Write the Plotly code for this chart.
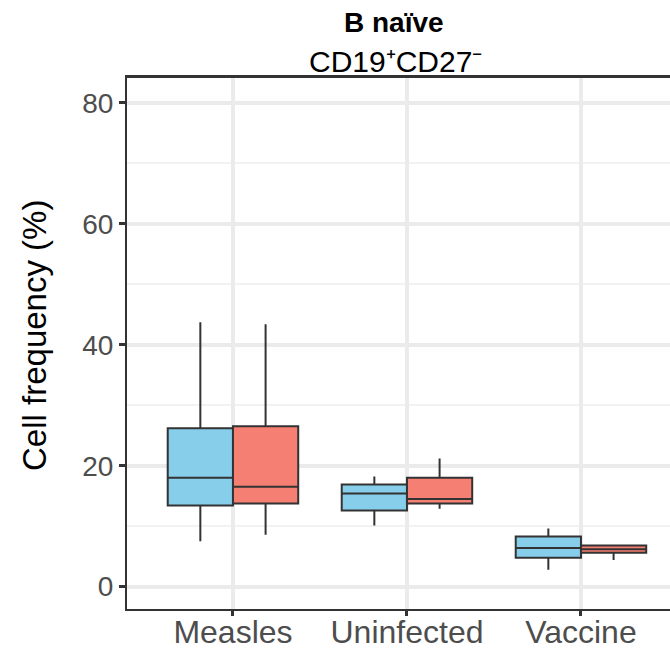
import plotly.graph_objects as go

categories = ["Measles", "Uninfected", "Vaccine"]

# Group A (blue)
a_low = [7.5, 10.1, 2.8]
a_q1 = [13.4, 12.6, 4.8]
a_med = [18.0, 15.4, 6.4]
a_q3 = [26.2, 16.9, 8.3]
a_high = [43.7, 18.2, 9.6]

# Group B (red)
b_low = [8.6, 12.9, 4.4]
b_q1 = [13.75, 13.75, 5.6]
b_med = [16.5, 14.5, 6.2]
b_q3 = [26.5, 18.0, 6.8]
b_high = [43.4, 21.2, 6.8]

y_ticks = [0, 20, 40, 60, 80]
y_minor = [10, 30, 50, 70]

FONT = "Liberation Sans, Arial, Helvetica, sans-serif"
OUT = "#333333"

W, H = 670, 649
L, R, T, B = 127, 0, 77, 40
PW, PH = W - L - R, H - T - B

fig = go.Figure()
for name, low, q1, med, q3, high, col in [
    ("A", a_low, a_q1, a_med, a_q3, a_high, "#87CEEB"),
    ("B", b_low, b_q1, b_med, b_q3, b_high, "#F47F72"),
]:
    fig.add_trace(go.Box(
        x=categories, q1=q1, median=med, q3=q3,
        lowerfence=low, upperfence=high,
        name=name, fillcolor=col,
        line=dict(color=OUT, width=2),
        whiskerwidth=0, boxpoints=False, showlegend=False,
    ))

fig.update_layout(
    width=W, height=H,
    margin=dict(l=L, r=R, t=T, b=B, autoexpand=False),
    paper_bgcolor="white", plot_bgcolor="white",
    boxmode="group", boxgap=0.25, boxgroupgap=0,
    font=dict(family=FONT, color="black"),
    showlegend=False,
)
fig.update_xaxes(
    type="category", range=[-0.609, -0.609 + PW / 174.0], automargin=False,
    showline=True, linecolor=OUT, linewidth=2, mirror=True,
    ticks="outside", ticklen=5, tickwidth=3, tickcolor=OUT,
    showgrid=True, gridcolor="#EBEBEB", gridwidth=4,
    tickfont=dict(family=FONT, size=32, color="#4D4D4D"),
    ticklabelstandoff=-11,
    zeroline=False,
)
fig.update_yaxes(
    range=[-3.69, 84.25], tickvals=y_ticks, automargin=False,
    showline=True, linecolor=OUT, linewidth=2, mirror=False,
    ticks="outside", ticklen=6, tickwidth=3, tickcolor=OUT,
    showgrid=True, gridcolor="#EBEBEB", gridwidth=4,
    minor=dict(tickvals=y_minor, showgrid=True, gridcolor="#F2F2F2", gridwidth=2, ticks=""),
    tickfont=dict(family=FONT, size=28, color="#4D4D4D"),
    zeroline=False,
)
fig.add_shape(type="line", xref="paper", yref="paper", x0=0, x1=1, y0=1, y1=1,
              line=dict(color=OUT, width=2))

def py(pix):
    return (H - B - pix) / PH

def px(pix):
    return (pix - L) / PW

fig.add_annotation(text="<b>B naïve</b>", xref="paper", yref="paper",
                   x=px(394), y=py(22.5), xanchor="center", yanchor="middle",
                   showarrow=False, font=dict(family=FONT, size=28, color="black"))
fig.add_annotation(text="CD19⁺CD27⁻", xref="paper", yref="paper",
                   x=px(395), y=py(61), xanchor="center", yanchor="middle",
                   showarrow=False, font=dict(family=FONT, size=30, color="black"))
fig.add_annotation(text="Cell frequency (%)", xref="paper", yref="paper",
                   x=px(34), y=py(336), xanchor="center", yanchor="middle",
                   textangle=-90, showarrow=False, font=dict(family=FONT, size=33, color="black"))

fig.write_html(
    "out.html",
    config={"displayModeBar": False},
    post_script="document.body.style.margin='0';document.body.style.overflow='hidden';",
)
